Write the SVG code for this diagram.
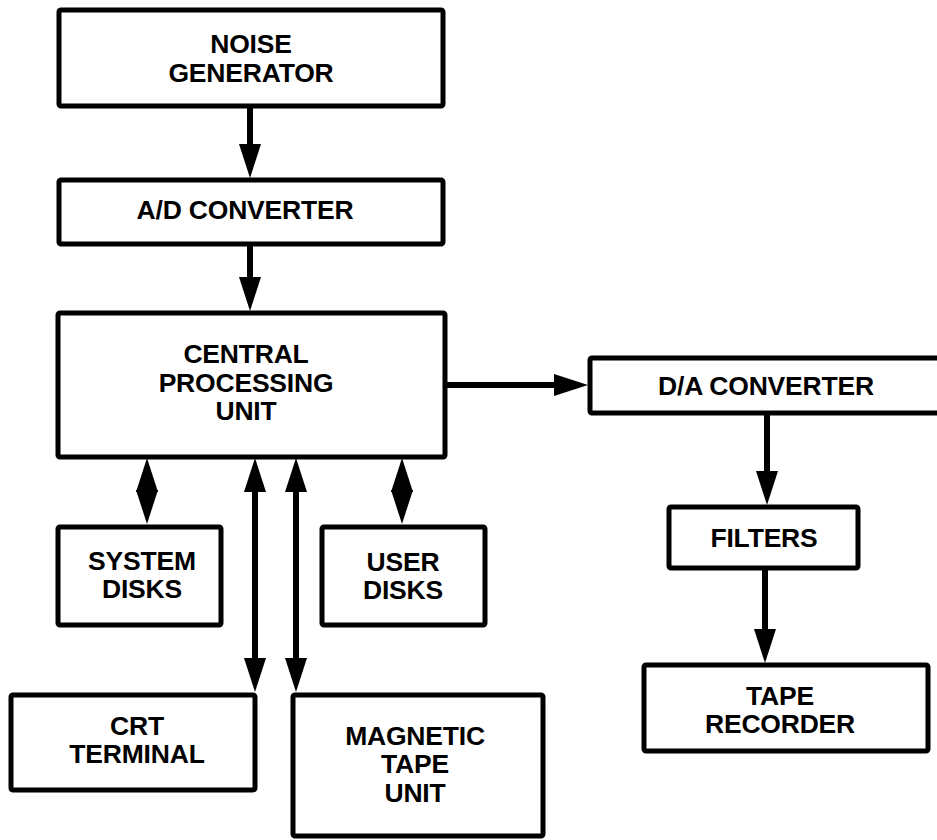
<svg xmlns="http://www.w3.org/2000/svg" width="937" height="840" viewBox="0 0 937 840">
<defs>
<style>
.box{fill:#fff;stroke:#000;stroke-width:5;stroke-linejoin:round}
.lbl{font-family:"Liberation Sans",Arial,sans-serif;font-weight:bold;font-size:26.5px;fill:#000;text-anchor:middle;letter-spacing:-0.2px}
.con{stroke:#000;stroke-width:6;fill:none}
</style>
<marker id="ah" markerUnits="userSpaceOnUse" markerWidth="34" markerHeight="22" viewBox="0 0 34 22" refX="8" refY="11" orient="auto-start-reverse">
<path d="M0,0 L34,11 L0,22 Z" fill="#000"/>
</marker>
</defs>
<rect width="937" height="840" fill="#fff"/>
<g id="connectors">
<line class="con" x1="250" y1="108" x2="250" y2="152" marker-end="url(#ah)"/>
<line class="con" x1="250" y1="245" x2="250" y2="285" marker-end="url(#ah)"/>
<line class="con" x1="446" y1="385" x2="562" y2="385" marker-end="url(#ah)"/>
<line class="con" x1="767" y1="414" x2="767" y2="479" marker-end="url(#ah)"/>
<line class="con" x1="765" y1="569" x2="765" y2="637" marker-end="url(#ah)"/>
<line class="con" x1="147" y1="484" x2="147" y2="498" marker-start="url(#ah)" marker-end="url(#ah)"/>
<line class="con" x1="402" y1="484" x2="402" y2="498" marker-start="url(#ah)" marker-end="url(#ah)"/>
<line class="con" x1="255" y1="484" x2="255" y2="666" marker-start="url(#ah)" marker-end="url(#ah)"/>
<line class="con" x1="296" y1="484" x2="296" y2="666" marker-start="url(#ah)" marker-end="url(#ah)"/>
</g>
<g id="noise">
<rect class="box" x="59" y="10" width="384" height="96" rx="2"/>
<text class="lbl" x="251" y="53">NOISE</text>
<text class="lbl" x="251" y="82">GENERATOR</text>
</g>
<g id="adc">
<rect class="box" x="59" y="180" width="384" height="64" rx="2"/>
<text class="lbl" x="245" y="219">A/D CONVERTER</text>
</g>
<g id="cpu">
<rect class="box" x="58" y="313" width="387" height="144" rx="2"/>
<text class="lbl" x="246" y="363">CENTRAL</text>
<text class="lbl" x="246" y="392">PROCESSING</text>
<text class="lbl" x="246" y="420">UNIT</text>
</g>
<g id="dac">
<rect class="box" x="590" y="358" width="400" height="55" rx="2"/>
<text class="lbl" x="766" y="395">D/A CONVERTER</text>
</g>
<g id="filters">
<rect class="box" x="669" y="507" width="189" height="61" rx="2"/>
<text class="lbl" x="764" y="547">FILTERS</text>
</g>
<g id="taperec">
<rect class="box" x="644" y="665" width="284" height="86" rx="2"/>
<text class="lbl" x="780" y="705">TAPE</text>
<text class="lbl" x="780" y="733">RECORDER</text>
</g>
<g id="sysdisks">
<rect class="box" x="58" y="527" width="163" height="98" rx="2"/>
<text class="lbl" x="142" y="570">SYSTEM</text>
<text class="lbl" x="142" y="598">DISKS</text>
</g>
<g id="userdisks">
<rect class="box" x="322" y="527" width="163" height="98" rx="2"/>
<text class="lbl" x="403" y="571">USER</text>
<text class="lbl" x="403" y="599">DISKS</text>
</g>
<g id="crt">
<rect class="box" x="11" y="695" width="244" height="95" rx="2"/>
<text class="lbl" x="137" y="735">CRT</text>
<text class="lbl" x="137" y="763">TERMINAL</text>
</g>
<g id="magtape">
<rect class="box" x="293" y="695" width="250" height="141" rx="2"/>
<text class="lbl" x="415" y="745">MAGNETIC</text>
<text class="lbl" x="415" y="773">TAPE</text>
<text class="lbl" x="415" y="802">UNIT</text>
</g>
</svg>
